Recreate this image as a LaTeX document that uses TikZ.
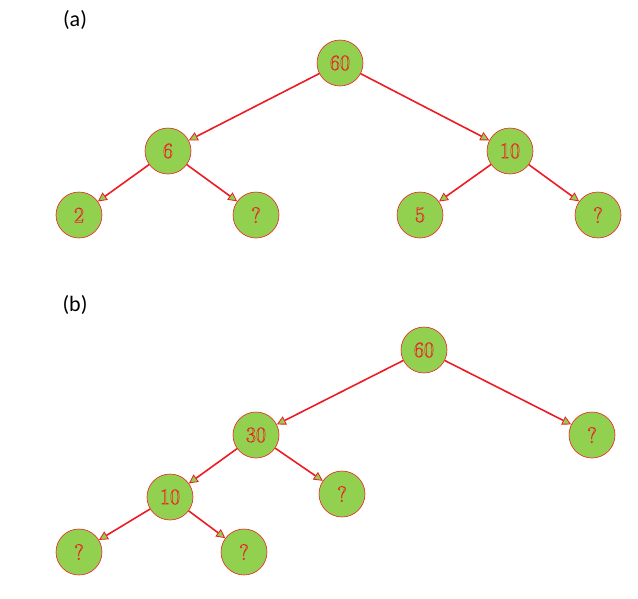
\documentclass[tikz,border=0pt]{standalone}
\usepackage{fontspec}
\newfontfamily\lab{Carlito}
\usetikzlibrary{arrows.meta}
\definecolor{ng}{RGB}{146,208,80}
\definecolor{nr}{RGB}{237,28,36}
\newcommand{\olt}[1]{\special{pdf:literal direct 1 Tr 0.5 w}#1\special{pdf:literal direct 0 Tr}}
\tikzset{
 nd/.style={circle,draw=nr,fill=ng,line width=0.6pt,minimum size=46pt,inner sep=0pt,text=nr,font=\fontsize{22}{22}\selectfont},
 ed/.style={draw=nr,line width=1.6pt,-{Triangle[length=9pt,width=9pt,fill=ng,line width=0.8pt]}},
 lb/.style={font=\lab\fontsize{22}{22}\selectfont,anchor=center}
}
\begin{document}
\begin{tikzpicture}[x=1pt,y=-1pt]
\useasboundingbox (0,0) rectangle (638,598);
\node[lb] (la) at (75,20) {(a)};
\node[nd] (a60) at (340,63) {\olt{60}};
\node[nd] (a6) at (168,151) {\olt{6}};
\node[nd] (a10) at (510,151) {\olt{10}};
\node[nd] (a2) at (79,215) {\olt{2}};
\node[nd] (aq1) at (256,215) {\olt{?}};
\node[nd] (a5) at (420,215) {\olt{5}};
\node[nd] (aq2) at (598,215) {\olt{?}};
\draw[ed] (a60) -- (a6);
\draw[ed] (a60) -- (a10);
\draw[ed] (a6) -- (a2);
\draw[ed] (a6) -- (aq1);
\draw[ed] (a10) -- (a5);
\draw[ed] (a10) -- (aq2);
\node[lb] (lbb) at (75,305) {(b)};
\node[nd] (b60) at (424,350) {\olt{60}};
\node[nd] (b30) at (256,435) {\olt{30}};
\node[nd] (bq1) at (592,435) {\olt{?}};
\node[nd] (b10) at (170,497) {\olt{10}};
\node[nd] (bq2) at (342,494) {\olt{?}};
\node[nd] (bq3) at (79,552) {\olt{?}};
\node[nd] (bq4) at (244,552) {\olt{?}};
\draw[ed] (b60) -- (b30);
\draw[ed] (b60) -- (bq1);
\draw[ed] (b30) -- (b10);
\draw[ed] (b30) -- (bq2);
\draw[ed] (b10) -- (bq3);
\draw[ed] (b10) -- (bq4);
\end{tikzpicture}
\end{document}
